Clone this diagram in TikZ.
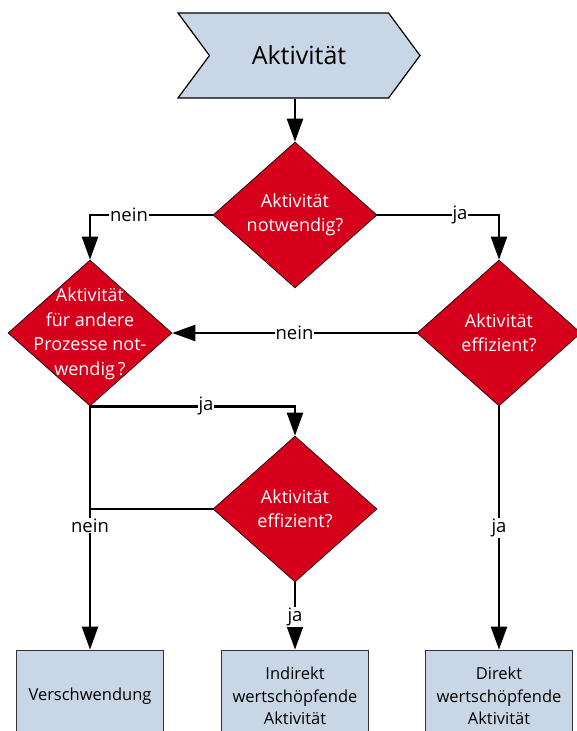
\documentclass[tikz,border=0pt]{standalone}
\usepackage{fontspec}
\setmainfont{Open Sans}
\usetikzlibrary{arrows.meta,shapes.geometric,shapes.symbols}
\definecolor{boxblue}{RGB}{201,214,229}
\definecolor{dred}{RGB}{214,0,28}
\tikzset{
  dia/.style={diamond,draw=black,line width=0.6pt,fill=dred,inner sep=0pt,minimum width=164pt,minimum height=146pt},
  dtext/.style={text=white,align=center,font=\fontsize{18}{24.5}\selectfont,inner sep=0pt},
  resbox/.style={rectangle,draw=black!80,line width=0.8pt,fill=boxblue,minimum width=147pt,minimum height=92pt,align=center,font=\fontsize{16.5}{22.5}\selectfont,inner sep=0pt},
  conn/.style={line width=2.4pt},
  arr/.style={conn,-{Triangle[length=23pt,width=16pt]}},
  lbl/.style={fill=white,inner sep=1pt,font=\fontsize{18.5}{20}\selectfont}
}
\begin{document}
\begin{tikzpicture}[x=1pt,y=-1pt]
\useasboundingbox (0,0) rectangle (577,731);
% start chevron
\node[signal,signal from=west,signal to=east,signal pointer angle=107,draw=black,line width=1.2pt,fill=boxblue,minimum width=242pt,minimum height=85pt,inner sep=0pt,font=\fontsize{25}{30}\selectfont] (chev) at (299,55.5) {Aktivität};
% decisions
\node[dia] (d1) at (295,215) {};
\node[dtext] at (d1) {Aktivität\\notwendig?};
\node[dia] (d2) at (90,333) {};
\node[dtext] at (90,334) {Aktivität\\für andere\\Prozesse not-\\wendig\,?};
\node[dia] (d3) at (499,333) {};
\node[dtext] at (d3) {Aktivität\\effizient?};
\node[dia] (d4) at (295,509) {};
\node[dtext] at (d4) {Aktivität\\effizient?};
% results
\node[resbox] (b1) at (90,696) {Verschwendung};
\node[resbox] (b2) at (295,696) {Indirekt\\wertschöpfende\\Aktivität};
\node[resbox] (b3) at (499,696) {Direkt\\wertschöpfende\\Aktivität};
% connectors
\draw[arr] (d1.north |- chev.south) -- (d1.north);
\draw[arr] (d1.west) -- (d1.west -| d2.north) -- (d2.north);
\node[lbl] at (129,215) {nein};
\draw[arr] (d1.east) -- (d1.east -| d3.north) -- (d3.north);
\node[lbl] at (460,215) {ja};
\draw[arr] (d3.west) -- (d2.east) node[lbl,pos=0.5] {nein};
\draw[arr] (d2.south) -- (d2.south -| d4.north) -- (d4.north);
\node[lbl] at (206,406) {ja};
\draw[arr] (d2.south) -- (b1.north) node[lbl,pos=0.49] {nein};
\draw[conn] (d4.west) -- (d4.west -| d2.south);
\draw[arr] (d4.south) -- (b2.north) node[lbl,pos=0.52] {ja};
\draw[arr] (d3.south) -- (b3.north) node[lbl,pos=0.5] {ja};
\end{tikzpicture}
\end{document}
